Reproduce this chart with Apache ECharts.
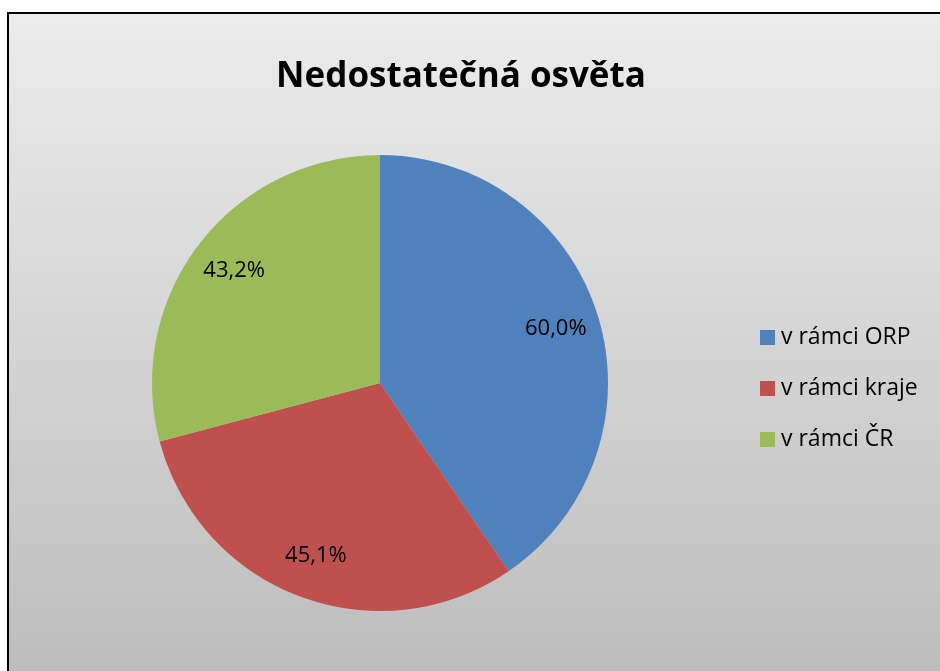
<!DOCTYPE html>
<html>
<head>
<meta charset="utf-8">
<script src="https://cdn.jsdelivr.net/npm/echarts@6/dist/echarts.min.js"></script>
<style>
  html, body { margin: 0; padding: 0; background: #fff; }
  #chart { width: 940px; height: 671px; }
</style>
</head>
<body>
<div id="chart"></div>
<script>
// data
var categories = ['v rámci ORP', 'v rámci kraje', 'v rámci ČR'];
var values = [60.0, 45.1, 43.2];
var colors = ['#4f81bd', '#c0504d', '#9bbb59'];

var pieData = categories.map(function (name, i) {
    return { name: name, value: values[i] };
});

var chart = echarts.init(document.getElementById('chart'));
var font = '"Open Sans", "Noto Sans", sans-serif';

var option = {
    color: colors,
    animation: false,
    graphic: [
        {
            type: 'rect',
            z: -10,
            shape: { x: 8, y: 13, width: 940, height: 670 },
            style: {
                fill: new echarts.graphic.LinearGradient(0, 0, 0, 1, [
                    { offset: 0, color: '#ececec' },
                    { offset: 1, color: '#bcbcbc' }
                ]),
                stroke: '#000',
                lineWidth: 2
            }
        }
    ],
    title: {
        text: 'Nedostatečná osvěta',
        left: 456,
        textAlign: 'center',
        top: 55,
        textStyle: {
            fontFamily: font,
            fontSize: 35,
            fontWeight: 'bold',
            color: '#000'
        }
    },
    legend: {
        orient: 'vertical',
        left: 760,
        top: 326,
        padding: 0,
        itemWidth: 15,
        itemHeight: 15,
        itemGap: 28,
        icon: 'rect',
        data: categories,
        textStyle: {
            fontFamily: font,
            fontSize: 23,
            lineHeight: 23,
            color: '#000',
            padding: [0, 0, 0, 1]
        }
    },
    series: [
        {
            type: 'pie',
            center: [380, 383],
            radius: [0, 228],
            startAngle: 90,
            clockwise: true,
            label: { show: false },
            labelLine: { show: false },
            data: pieData
        },
        {
            // transparent ring only to place the value labels
            type: 'pie',
            silent: true,
            center: [380, 383],
            radius: [134, 228],
            startAngle: 90,
            clockwise: true,
            itemStyle: { color: 'rgba(0,0,0,0)' },
            label: {
                show: true,
                position: 'inside',
                fontFamily: font,
                fontSize: 22,
                color: '#000',
                formatter: function (p) {
                    return p.value.toFixed(1).replace('.', ',') + '%';
                }
            },
            labelLine: { show: false },
            data: pieData
        }
    ]
};

chart.setOption(option);
</script>
</body>
</html>
